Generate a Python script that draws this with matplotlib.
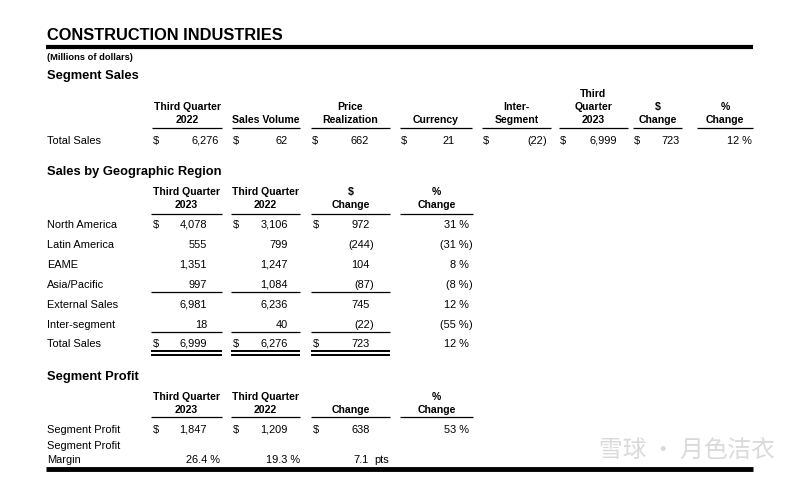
import matplotlib
matplotlib.use('Agg')
import matplotlib.pyplot as plt

#####table values (millions of dollars)

title = 'CONSTRUCTION INDUSTRIES'
units = '(Millions of dollars)'

# segment sales bridge
seg_headers = ['Third Quarter\n2022', 'Sales Volume', 'Price\nRealization', 'Currency',
               'Inter-\nSegment', 'Third\nQuarter\n2023', '$\nChange', '%\nChange']
seg_values = [6276, 62, 662, 21, -22, 6999, 723]
seg_pct = 12

# sales by geographic region
geo_headers = ['Third Quarter\n2023', 'Third Quarter\n2022', '$\nChange', '%\nChange']
geo_labels = ['North America', 'Latin America', 'EAME', 'Asia/Pacific',
              'External Sales', 'Inter-segment', 'Total Sales']
geo_2023 = [4078, 555, 1351, 997, 6981, 18, 6999]
geo_2022 = [3106, 799, 1247, 1084, 6236, 40, 6276]
geo_chg = [972, -244, 104, -87, 745, -22, 723]
geo_pct = [31, -31, 8, -8, 12, -55, 12]
geo_dollar_rows = ['North America', 'Total Sales']

# segment profit
prof_headers = ['Third Quarter\n2023', 'Third Quarter\n2022', 'Change', '%\nChange']
profit_2023 = 1847
profit_2022 = 1209
profit_chg = 638
profit_pct = 53
margin_2023 = 26.4
margin_2022 = 19.3
margin_chg = 7.1

FONT = ['Liberation Sans', 'DejaVu Sans']
BODY = 7.9
HEAD = 7.6
SECTION = 9.3

fig = plt.figure(figsize=(8, 4.8), dpi=100)
ax = fig.add_axes([0, 0, 1, 1])
ax.set_xlim(0, 800)
ax.set_ylim(480, 0)
ax.axis('off')


def txt(x, y, s, ha='left', bold=False, size=BODY, **kw):
    # y is the middle of the capitals -> put baseline half a cap height lower
    off = 0.716 * size * 100 / 72 / 2
    ax.text(x, y + off, s, ha=ha, va='baseline', fontsize=size,
            fontweight='bold' if bold else 'normal', family=FONT, **kw)


def hline(x0, x1, y, lw=1.0):
    ax.plot([x0, x1], [y, y], color='black', lw=lw, solid_capstyle='butt')


def num(x, y, v, fmt='{:,}', suffix=''):
    # negatives in parentheses, closing paren hangs right of the column
    if v < 0:
        txt(x, y, '(' + fmt.format(-v) + suffix, ha='right')
        txt(x, y, ')', ha='left')
    else:
        txt(x, y, fmt.format(v) + suffix, ha='right')


def headers(cols, names, y_last, y_line):
    for (x0, x1), h in zip(cols, names):
        lines = h.split('\n')
        for i, ln in enumerate(reversed(lines)):
            txt((x0 + x1) / 2, y_last - 13 * i, ln, ha='center', bold=True, size=HEAD)
        hline(x0, x1, y_line, 0.9)


# title block
txt(47, 34, title, bold=True, size=11.8)
hline(46, 753, 47, 3.0)
txt(47, 57, units, bold=True, size=6.7)
txt(47, 74, 'Segment Sales', bold=True, size=SECTION)

# segment sales
seg_cols = [(152, 222), (232, 300), (311, 390), (400, 472), (482, 551), (559, 628), (633, 682), (697, 753)]
seg_right = [219, 288, 369, 455, 543, 617, 680]
headers(seg_cols, seg_headers, 119, 128)
txt(47, 140, 'Total Sales')
for (x0, x1), xr, v in zip(seg_cols, seg_right, seg_values):
    txt(x0 + 1, 140, '$')
    num(xr, 140, v)
txt(752, 140, f'{seg_pct} %', ha='right')

# geographic region
txt(47, 170, 'Sales by Geographic Region', bold=True, size=SECTION)
geo_cols = [(151, 222), (231, 300), (311, 390), (400, 473)]
geo_right = [207, 288, 370, 469]
headers(geo_cols, geo_headers, 204, 214)
row_y = [224, 244, 264, 284, 304, 324, 343]
for lab, y, a, b, c, p in zip(geo_labels, row_y, geo_2023, geo_2022, geo_chg, geo_pct):
    txt(47, y, lab)
    if lab in geo_dollar_rows:
        for x0, x1 in geo_cols[:3]:
            txt(x0 + 2, y, '$')
    num(geo_right[0], y, a)
    num(geo_right[1], y, b)
    num(geo_right[2], y, c)
    num(geo_right[3], y, p, suffix=' %')
for x0, x1 in geo_cols[:3]:
    hline(x0, x1, 292, 0.9)
    hline(x0, x1, 332, 0.9)
    hline(x0, x1, 351, 1.4)
    hline(x0, x1, 354.5, 1.4)

# segment profit
txt(47, 375, 'Segment Profit', bold=True, size=SECTION)
headers(geo_cols, prof_headers, 409, 417)
txt(47, 429, 'Segment Profit')
for x0, x1 in geo_cols[:3]:
    txt(x0 + 2, 429, '$')
num(geo_right[0], 429, profit_2023)
num(geo_right[1], 429, profit_2022)
num(geo_right[2], 429, profit_chg)
num(geo_right[3], 429, profit_pct, suffix=' %')
txt(47, 445, 'Segment Profit')
txt(47, 459, 'Margin')
txt(220, 459, f'{margin_2023} %', ha='right')
txt(300, 459, f'{margin_2022} %', ha='right')
txt(369, 459, f'{margin_chg}', ha='right')
txt(374, 459, 'pts')
hline(46, 753, 469, 3.5)

# watermark
ax.text(775, 451, '雪球 · 月色洁衣', ha='right', va='center', fontsize=17, color='#dadada',
        family=['Noto Sans CJK SC', 'DejaVu Sans'])

fig.savefig('out.png', dpi=100)
